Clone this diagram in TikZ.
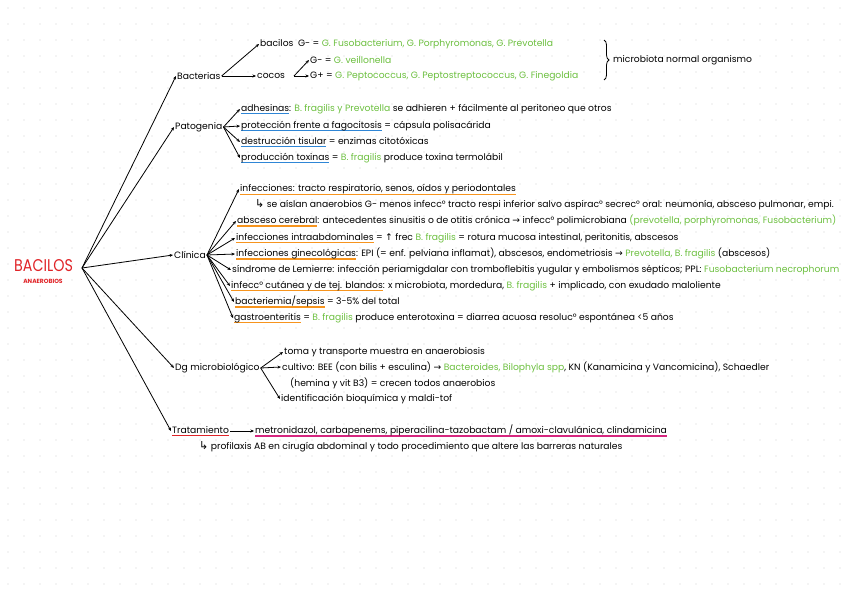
\documentclass[tikz,border=0pt]{standalone}
\usepackage{graphicx}
\usepackage{fontspec}
\setmainfont{Poppins}
\newfontfamily\symf{DejaVu Sans}
\usetikzlibrary{arrows.meta,decorations.pathreplacing}
\definecolor{lima}{HTML}{6CBF3F}
\definecolor{naranja}{HTML}{F7941D}
\definecolor{azul}{HTML}{2F86D6}
\definecolor{rojo}{HTML}{E02428}
\definecolor{fucsia}{HTML}{D6267F}
\newcommand\gr[1]{{\color{lima}#1}}
\newcommand\ubar[2]{\begingroup\setbox0\hbox{#2}\rlap{\textcolor{#1}{\rule[-3pt]{\wd0}{1.4pt}}}\box0\endgroup}
\newcommand\ra{{\symf →}}
\newcommand\hookar{{\symf\fontsize{11}{11}\selectfont ↳}}

\begin{document}
\begin{tikzpicture}[x=1pt,y=-1pt,
  every node/.style={inner sep=1pt,font=\fontsize{9.2}{11}\selectfont},
  txt/.style={anchor=west},
  subr/.style={line width=1.4pt},
  flecha/.style={-{Stealth[length=3.5pt,width=3pt]},line width=0.8pt}]
\useasboundingbox (0,0) rectangle (848,599);
% fondo punteado
\foreach \i in {0,...,53}
  \foreach \j in {0,...,37}
    \fill[black!18] (8+16*\i,8+16*\j) circle (0.6);

% titulo
\node[txt,text=rojo,font=\fontsize{17}{17}\selectfont] (titulo) at (13,266) {\scalebox{0.84}[1]{BACILOS}};
\node[text=rojo,font=\fontsize{6}{6}\selectfont\bfseries] (sub) at (43,281) {ANAEROBIOS};
\coordinate (hub) at (82,268);

% ramas principales
\node[txt] (bact) at (176,76) {Bacterias};
\node[txt] (pat) at (174,127) {Patogenia};
\node[txt] (cli) at (173,255) {Clínica};
\node[txt] (dg) at (174,368) {Dg microbiológico};
\node[txt] (trat) at (171,431) {\ubar{rojo}{Tratamiento}};
\foreach \n in {bact,pat,cli,dg,trat}
  \draw[flecha] (hub) -- (\n.west);

% bacterias
\node[txt] (bcl) at (259,44) {bacilos\enspace G- = \gr{G. Fusobacterium, G. Porphyromonas, G. Prevotella}};
\node[txt] (coc) at (256,76) {cocos};
\draw[flecha] (bact.east) -- (bcl.west);
\draw[flecha] (bact.east) -- (coc.west);
\node[txt] (gneg) at (309,60) {G- = \gr{G. veillonella}};
\node[txt] (gpos) at (309,76) {G+ = \gr{G. Peptococcus, G. Peptostreptococcus, G. Finegoldia}};
\coordinate (cocr) at (294,76);
\draw[flecha] (cocr) -- (gneg.west);
\draw[flecha] (cocr) -- (gpos.west);
\draw[line width=0.8pt,decorate,decoration={brace,amplitude=5pt}] (604,40) -- (604,80);
\node[txt] (micro) at (612,60) {microbiota normal organismo};

% patogenia
\node[txt] (p1) at (240,109) {\ubar{azul}{adhesinas}: \gr{B. fragilis y Prevotella} se adhieren + fácilmente al peritoneo que otros};
\node[txt] (p2) at (240,126) {\ubar{azul}{protección frente a fagocitosis} = cápsula polisacárida};
\node[txt] (p3) at (240,142) {\ubar{azul}{destrucción tisular} = enzimas citotóxicas};
\node[txt] (p4) at (240,158) {\ubar{azul}{producción toxinas} = \gr{B. fragilis} produce toxina termolábil};
\foreach \n in {p1,p2,p3,p4}
  \draw[flecha] (pat.east) -- (\n.west);

% clinica
\node[txt] (c1) at (239,189) {infecciones: tracto respiratorio, senos, oídos y periodontales};
\draw[subr,naranja] ([xshift=1pt,yshift=-3pt]c1.base west) -- ([xshift=-1pt,yshift=-3pt]c1.base east);
\node[txt] (c1b) at (254,205) {\hookar\ se aíslan anaerobios G- menos infecc° tracto respi inferior salvo aspirac° secrec° oral: neumonía, absceso pulmonar, empi.};
\node[txt] (c2) at (236,221) {\ubar{naranja}{absceso cerebral}: antecedentes sinusitis o de otitis crónica \ra\ infecc° polimicrobiana \gr{(prevotella, porphyromonas, Fusobacterium)}};
\node[txt] (c3) at (235,238) {\ubar{naranja}{infecciones intraabdominales} = {\symf ↑} frec \gr{B. fragilis} = rotura mucosa intestinal, peritonitis, abscesos};
\node[txt] (c4) at (235,254) {\ubar{naranja}{infecciones ginecológicas}: EPI (= enf. pelviana inflamat), abscesos, endometriosis \ra\ \gr{Prevotella, B. fragilis} (abscesos)};
\node[txt] (c5) at (231,270) {síndrome de Lemierre: infección periamigdalar con tromboflebitis yugular y embolismos sépticos; PPL: \gr{Fusobacterium necrophorum}};
\node[txt] (c6) at (230,286) {\ubar{naranja}{infecc° cutánea y de tej. blandos}: x microbiota, mordedura, \gr{B. fragilis} + implicado, con exudado maloliente};
\node[txt] (c7) at (234,302) {\ubar{naranja}{bacteriemia/sepsis} = 3-5\% del total};
\node[txt] (c8) at (233,318) {\ubar{naranja}{gastroenteritis} = \gr{B. fragilis} produce enterotoxina = diarrea acuosa resoluc° espontánea <5 años};
\foreach \n in {c1,c2,c3,c4,c5,c6,c7,c8}
  \draw[flecha] (cli.east) -- (\n.west);

% diagnostico
\node[txt] (d1) at (283,352) {toma y transporte muestra en anaerobiosis};
\node[txt] (d2) at (281,367) {cultivo: BEE (con bilis + esculina) \ra\ \gr{Bacteroides, Bilophyla spp}, KN (Kanamicina y Vancomicina), Schaedler};
\node[txt] (d2b) at (289,383) {(hemina y vit B3) = crecen todos anaerobios};
\node[txt] (d3) at (280,399) {identificación bioquímica y maldi-tof};
\foreach \n in {d1,d2,d3}
  \draw[flecha] (dg.east) -- (\n.west);

% tratamiento
\node[txt] (t1) at (254,431) {\ubar{fucsia}{metronidazol, carbapenems, piperacilina-tazobactam / amoxi-clavulánica, clindamicina}};
\draw[flecha] (trat.east) -- (t1.west);
\node[txt] (t2) at (198,447) {\hookar\ profilaxis AB en cirugía abdominal y todo procedimiento que altere las barreras naturales};
\end{tikzpicture}
\end{document}
